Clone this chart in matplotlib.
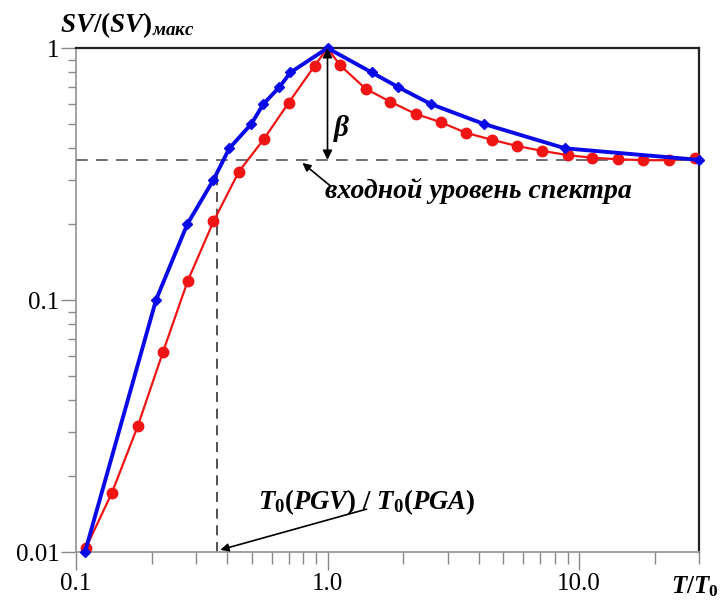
import matplotlib
matplotlib.use('Agg')
import matplotlib.pyplot as plt
from matplotlib.ticker import FixedLocator, NullFormatter

plt.rcParams['font.family'] = 'Liberation Serif'
plt.rcParams['mathtext.fontset'] = 'custom'
plt.rcParams['mathtext.rm'] = 'Liberation Serif:bold'
plt.rcParams['mathtext.it'] = 'Liberation Serif:bold:italic'
plt.rcParams['mathtext.bf'] = 'Liberation Serif:bold'

# idealised (blue) spectrum
blue_t = [0.1086, 0.208, 0.277, 0.352, 0.407, 0.498, 0.556, 0.644, 0.712, 1.0,
          1.50, 1.91, 2.57, 4.18, 8.8, 30.0]
blue_sv = [0.01, 0.1, 0.2, 0.3, 0.4, 0.5, 0.6, 0.7, 0.8, 1.0,
           0.8, 0.7, 0.6, 0.5, 0.4, 0.36]

# computed (red) spectrum, peak at T/T0 = 1 has no marker
red_t = [0.1096, 0.139, 0.176, 0.222, 0.278, 0.352, 0.444, 0.558, 0.701, 0.889,
         1.0, 1.12, 1.42, 1.78, 2.24, 2.82, 3.55, 4.49, 5.65, 7.12, 9.02,
         11.3, 14.3, 18.0, 22.7, 28.8]
red_sv = [0.0104, 0.0172, 0.0316, 0.0624, 0.119, 0.205, 0.323, 0.435, 0.607, 0.851,
          1.0, 0.856, 0.689, 0.612, 0.548, 0.508, 0.461, 0.433, 0.409, 0.391, 0.376,
          0.367, 0.362, 0.359, 0.359, 0.365]
red_peak_idx = 10

input_level = 0.36      # входной уровень спектра
t_ratio = 0.365         # T0(PGV)/T0(PGA)
t_ratio_top = 0.32

x_major = [0.1, 1.0, 10.0]
x_major_labels = ['0.1', '1.0', '10.0']
y_major = [0.01, 0.1, 1.0]
y_major_labels = ['0.01', '0.1', '1']

fig = plt.figure(figsize=(7.21, 6.01), dpi=100)
ax = fig.add_axes([0.1054, 0.0815, 0.8641, 0.8385])
ax.set_xscale('log')
ax.set_yscale('log')
ax.set_xlim(0.1, 30)
ax.set_ylim(0.01, 1.0)

# reference lines
ax.plot([0.1, 30], [input_level, input_level], color='#555555', lw=1.2,
        dashes=(7, 5), zorder=1)
ax.plot([t_ratio, t_ratio], [0.01, t_ratio_top], color='#333333', lw=1.2,
        dashes=(6, 4), zorder=1)

marks = [i for i in range(len(red_t)) if i != red_peak_idx]
ax.plot(red_t, red_sv, color='#f01515', lw=1.6, marker='o', ms=7.5,
        markevery=marks, clip_on=False, zorder=3)
ax.plot(blue_t, blue_sv, color='#0a0ae6', lw=2.8, marker='D', ms=5.5,
        clip_on=False, zorder=4)

# beta arrow
ax.annotate('', xy=(1.0, input_level), xytext=(1.0, 1.0),
            arrowprops=dict(arrowstyle='<|-|>', color='black', lw=1.2,
                            mutation_scale=14, shrinkA=0, shrinkB=0), zorder=5)
ax.text(1.047, 0.48, r'$\beta$', fontsize=21, va='center', ha='left')

ax.annotate('', xy=(0.795, 0.35), xytext=(1.03, 0.283),
            arrowprops=dict(arrowstyle='-|>', color='black', lw=1.2,
                            mutation_scale=12, shrinkA=0, shrinkB=0))
ax.text(0.98, 0.254, 'входной уровень спектра', fontsize=20,
        fontweight='bold', fontstyle='italic', va='baseline', ha='left')

ax.annotate('', xy=(0.375, 0.0102), xytext=(1.43, 0.0148),
            arrowprops=dict(arrowstyle='-|>', color='black', lw=1.2,
                            mutation_scale=12, shrinkA=0, shrinkB=0))
ax.text(0.531, 0.01482, r'$T_0(PGV)\ /\ T_0(PGA)$', fontsize=19.3,
        va='baseline', ha='left')

# axes styling
for side in ['left', 'bottom']:
    ax.spines[side].set_color('#999999')
    ax.spines[side].set_linewidth(1.3)
for side in ['top', 'right']:
    ax.spines[side].set_color('#222222')
    ax.spines[side].set_linewidth(1.6)

ax.xaxis.set_major_locator(FixedLocator(x_major))
ax.set_xticklabels(x_major_labels)
ax.yaxis.set_major_locator(FixedLocator(y_major))
ax.set_yticklabels(y_major_labels)
ax.xaxis.set_minor_formatter(NullFormatter())
ax.yaxis.set_minor_formatter(NullFormatter())
ax.tick_params(axis='x', which='major', direction='out', length=13, width=1,
               color='#888888', labelsize=18, pad=2)
ax.tick_params(axis='x', which='minor', direction='out', length=8.5, width=1,
               color='#888888')
ax.tick_params(axis='y', which='major', direction='out', length=11, width=1,
               color='#888888', labelsize=18, pad=1)
ax.tick_params(axis='y', which='minor', direction='out', length=6, width=1,
               color='#888888')

fig.text(0.083, 0.947, r'$SV/(SV)_{макс}$', fontsize=19.5, va='baseline', ha='left')
fig.text(0.93, 0.012, r'$T/T_0$', fontsize=18, va='baseline', ha='left')

fig.savefig('out.png', dpi=100)
